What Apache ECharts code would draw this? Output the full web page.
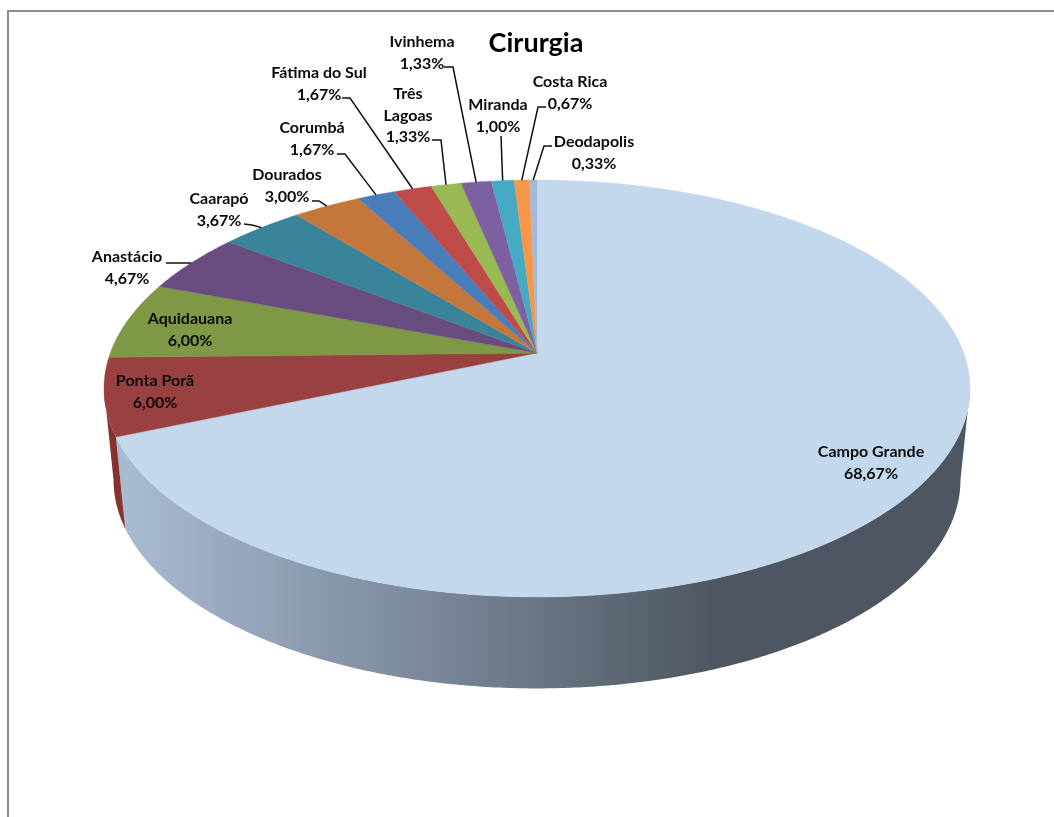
<!DOCTYPE html>
<html><head><meta charset="utf-8">
<script src="https://cdn.jsdelivr.net/npm/echarts@6/dist/echarts.min.js"></script>
<style>html,body{margin:0;padding:0;background:#fff}#c{width:1054px;height:817px}</style>
</head><body><div id="c"></div>
<script>
const categories = ['Campo Grande','Ponta Porã','Aquidauana','Anastácio','Caarapó','Dourados','Corumbá','Fátima do Sul','Três Lagoas','Ivinhema','Miranda','Costa Rica','Deodapolis'];
const values = [68.67,6.00,6.00,4.67,3.67,3.00,1.67,1.67,1.33,1.33,1.00,0.67,0.33];
const faceColors = ['#c3d7ed','#984140','#7f9845','#694d80','#39849b','#c4773a','#4a7ebb','#be4b48','#98b954','#7d60a0','#46aac5','#f79646','#a5b8d8'];
const wallColors = [null,'#843331','#6c823a','#59416d','#306f84','#a86431','#3f6ba0','#a2403d','#82a048','#6a5288','#3c91a8','#d3803c','#8d9db8'];

// label layout: [centre x, first-line y, line height, elbow points of leader]
const labelLines = [['Campo Grande','68,67%'],['Ponta Porã','6,00%'],['Aquidauana','6,00%'],['Anastácio','4,67%'],['Caarapó','3,67%'],['Dourados','3,00%'],['Corumbá','1,67%'],['Fátima do Sul','1,67%'],['Três','Lagoas','1,33%'],['Ivinhema','1,33%'],['Miranda','1,00%'],['Costa Rica','0,67%'],['Deodapolis','0,33%']];
const labelPos = [[871,452],[155,381],[190,319],[127,257],[219,199],[287,175],[312,128],[319,73],[408,94],[422,42],[498,105],[570,82],[594,142]];
const leaderElbows = [null,null,null,[[166,263]],[[244,224],[252,225]],[[312,201],[319,201]],[[337,154],[345,154]],[[342,98],[350,98]],[[432,140],[441,140]],[[444,67],[453,67]],[[501,136]],[[546,107],[538,107]],[[552,146],[544,146]]];

// Pie projection (perspective circle)
const CX=537, CY=353, A=426.7, B=202.45, K=0.17, DEPTH=91.5, SHRINK=0.978;
function rim(deg){const t=deg*Math.PI/180,u=Math.sin(t),v=Math.cos(t),d=1+K*v;return [CX+A*u/d,CY-B*v/d];}
function low(p){return [CX+(p[0]-CX)*SHRINK,p[1]+DEPTH];}
const total=values.reduce((a,b)=>a+b,0);
const starts=[];values.reduce((s,v,i)=>{starts[i]=s;return s+v;},0);
function angles(i,val){const a0=starts[i]/total*360;return [a0,a0+val/total*360];}
const VIS0=Math.acos(-K)*180/Math.PI, VIS1=360-VIS0;

const wallGrad=new echarts.graphic.LinearGradient(127,0,715,0,[
 {offset:0,color:'#a8bad2'},{offset:0.5,color:'#7b899b'},{offset:1,color:'#4e5761'}],true);

function walls(params,api){
  const i=params.dataIndex,[a0,a1]=angles(i,api.value(0));
  const s=Math.max(a0,VIS0),e=Math.min(a1,VIS1);
  if(e<=s) return {type:'group',children:[]};
  const top=[];for(let a=s;a<e;a+=0.5)top.push(rim(a));top.push(rim(e));
  const pts=top.concat(top.slice().reverse().map(low));
  const fill=wallColors[i]||wallGrad;
  return {type:'polygon',shape:{points:pts},style:{fill:fill,stroke:null},silent:true};
}
function faces(params,api){
  const i=params.dataIndex,[a0,a1]=angles(i,api.value(0));
  const pts=[[CX,CY]];for(let a=a0;a<a1;a+=0.5)pts.push(rim(a));pts.push(rim(a1));
  return {type:'polygon',shape:{points:pts},style:{fill:faceColors[i],stroke:faceColors[i],lineWidth:0.4},silent:true};
}
const LH=21.5;
function labels(params,api){
  const i=params.dataIndex,[a0,a1]=angles(i,api.value(0));
  const ch=[];
  const [lx,ly]=labelPos[i];
  labelLines[i].forEach((t,j)=>ch.push({type:'text',silent:true,style:{text:t,x:lx,y:ly+j*LH,align:'center',verticalAlign:'middle',fill:'#0a0a0a',font:'bold 16px Lato, "Noto Sans", sans-serif'}}));
  if(leaderElbows[i]){
    const pts=leaderElbows[i].concat([rim((a0+a1)/2)]);
    ch.push({type:'polyline',silent:true,shape:{points:pts},style:{fill:null,stroke:'#111',lineWidth:1.5}});
  }
  return {type:'group',children:ch};
}
const seriesData=values.map((v,i)=>({name:categories[i],value:[v]}));
const chart=echarts.init(document.getElementById('c'),null,{renderer:'canvas'});
chart.setOption({
  backgroundColor:'#fff',animation:false,
  title:{text:'Cirurgia',left:536,top:43,padding:0,textAlign:'center',textVerticalAlign:'middle',textStyle:{fontFamily:'Lato',fontWeight:'bold',fontSize:27,color:'#000'}},
  graphic:[
    {type:'line',silent:true,shape:{x1:7,y1:11,x2:1054,y2:11},style:{stroke:'#8c8c8c',lineWidth:2}},
    {type:'line',silent:true,shape:{x1:8,y1:10,x2:8,y2:817},style:{stroke:'#8c8c8c',lineWidth:2}}
  ],
  series:[
    {type:'custom',coordinateSystem:'none',renderItem:walls,data:seriesData,z:1,silent:true},
    {type:'custom',coordinateSystem:'none',renderItem:faces,data:seriesData,z:2,silent:true},
    {type:'custom',coordinateSystem:'none',renderItem:labels,data:seriesData,z:3,silent:true}
  ]
});
</script></body></html>
